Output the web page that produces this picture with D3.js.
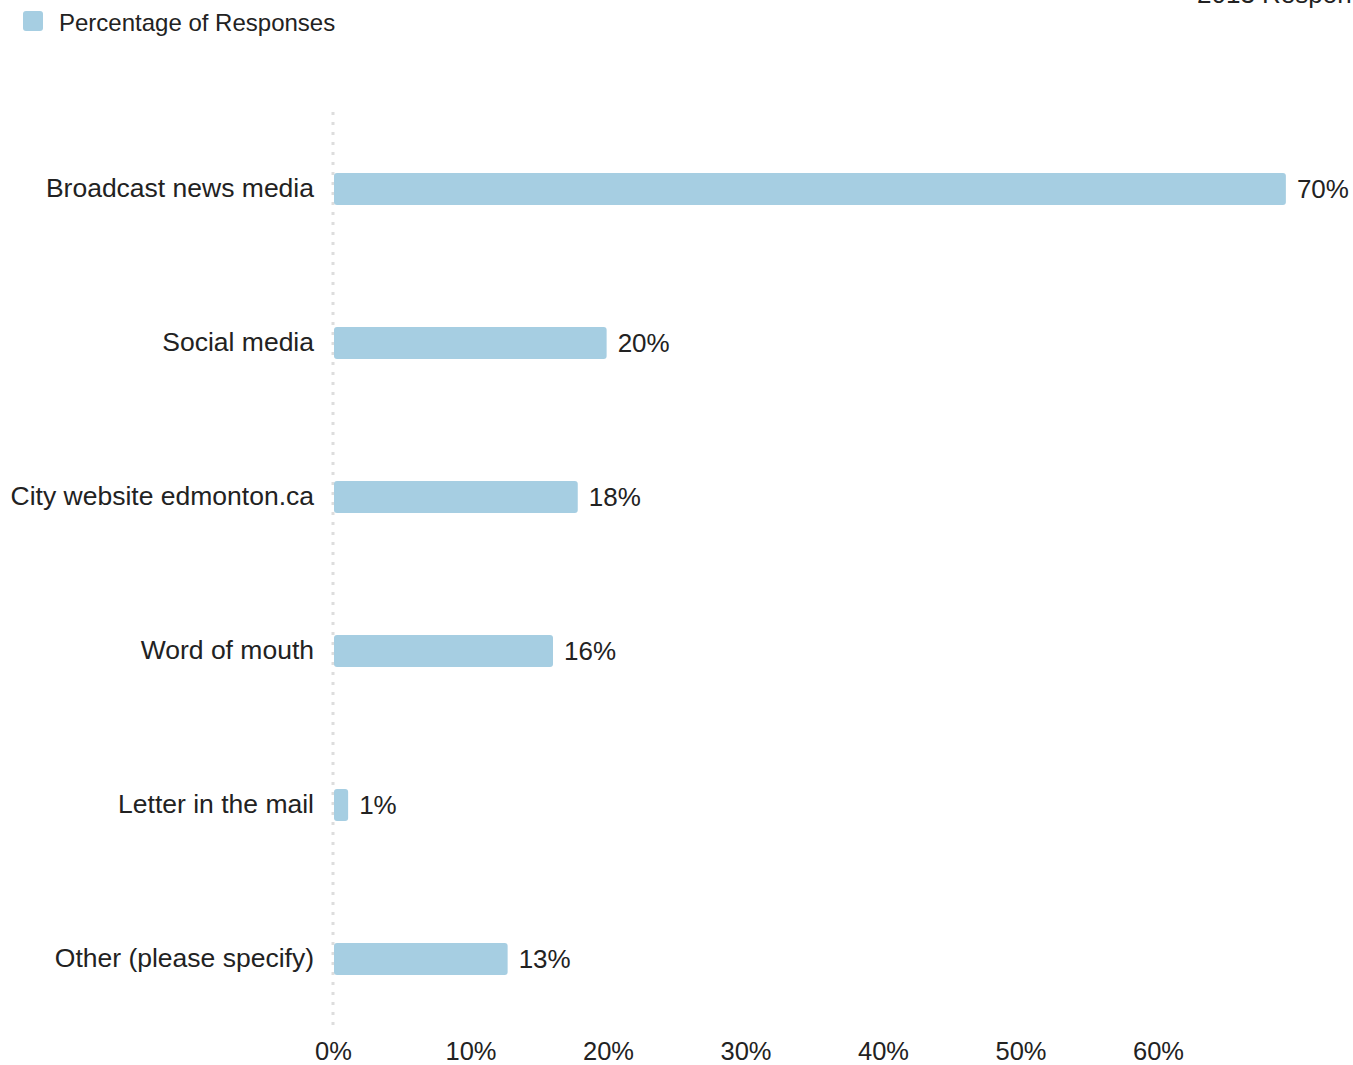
<!DOCTYPE html>
<html>
<head>
<meta charset="utf-8">
<script src="https://cdn.jsdelivr.net/npm/d3@7"></script>
<style>
body { margin: 0; background: #fff; }
text { font-family: "Liberation Sans", Arial, sans-serif; fill: #222; }
</style>
</head>
<body>
<div id="chart"></div>
<script>
var categories = ["Broadcast news media", "Social media", "City website edmonton.ca", "Word of mouth", "Letter in the mail", "Other (please specify)"];
var values = [69.3, 19.9, 17.8, 16.0, 1.1, 12.7];
var valueLabels = ["70%", "20%", "18%", "16%", "1%", "13%"];
var ticks = [0, 10, 20, 30, 40, 50, 60];
var seriesName = "Percentage of Responses";

var svgWidth = 1353;
var svgHeight = 1065;
var margin = { top: 112, right: 58, bottom: 29, left: 333 };
var width = svgWidth - margin.left - margin.right;
var height = svgHeight - margin.top - margin.bottom;

var svg = d3.select("#chart")
    .append("svg")
    .attr("width", svgWidth)
    .attr("height", svgHeight);

// clipped title in the top right corner
svg.append("text")
    .attr("x", 1197)
    .attr("y", 3)
    .attr("font-size", 26)
    .text("2013 Respondents");

// legend
svg.append("rect")
    .attr("x", 23).attr("y", 11)
    .attr("width", 20).attr("height", 20)
    .attr("rx", 3)
    .attr("fill", "#a6cee2");
svg.append("text")
    .attr("x", 59).attr("y", 31)
    .attr("font-size", 24)
    .text(seriesName);

var chartGroup = svg.append("g")
    .attr("transform", `translate(${margin.left},${margin.top})`);

var xScale = d3.scaleLinear()
    .domain([0, 70])
    .range([0, 962.5]);

var yScale = d3.scaleBand()
    .domain(categories)
    .range([0, height])
    .paddingInner(0.792)
    .paddingOuter(0.396);

// dotted zero line
chartGroup.append("line")
    .attr("x1", xScale(0)).attr("x2", xScale(0))
    .attr("y1", 0).attr("y2", height - 5)
    .attr("stroke", "#ddd")
    .attr("stroke-width", 3)
    .attr("stroke-dasharray", "3,7");

var bottomAxis = d3.axisBottom(xScale)
    .tickValues(ticks)
    .tickFormat(d => d + "%")
    .tickSize(0)
    .tickPadding(0);

var xAxis = chartGroup.append("g")
    .attr("transform", `translate(0,${height})`)
    .call(bottomAxis);
xAxis.select(".domain").remove();
xAxis.selectAll("text")
    .attr("font-size", 25.5)
    .attr("dy", "0.71em")
    .attr("y", 6)
    .style("font-family", "'Liberation Sans', Arial, sans-serif")
    .attr("fill", "#222");

var leftAxis = d3.axisLeft(yScale).tickSize(0).tickPadding(19);
var yAxis = chartGroup.append("g").call(leftAxis);
yAxis.select(".domain").remove();
yAxis.selectAll("text")
    .attr("font-size", 26.5)
    .style("font-family", "'Liberation Sans', Arial, sans-serif")
    .attr("fill", "#222");

chartGroup.selectAll(".bar")
    .data(categories)
    .enter()
    .append("rect")
    .attr("class", "bar")
    .attr("x", xScale(0) + 1)
    .attr("y", d => yScale(d))
    .attr("width", (d, i) => xScale(values[i]) - xScale(0) - 1)
    .attr("height", yScale.bandwidth())
    .attr("rx", 3)
    .attr("fill", "#a6cee2");

chartGroup.selectAll(".label")
    .data(categories)
    .enter()
    .append("text")
    .attr("class", "label")
    .attr("x", (d, i) => xScale(values[i]) + 11)
    .attr("y", d => yScale(d) + yScale.bandwidth() / 2)
    .attr("dy", "0.35em")
    .attr("font-size", 26)
    .text((d, i) => valueLabels[i]);
</script>
</body>
</html>
